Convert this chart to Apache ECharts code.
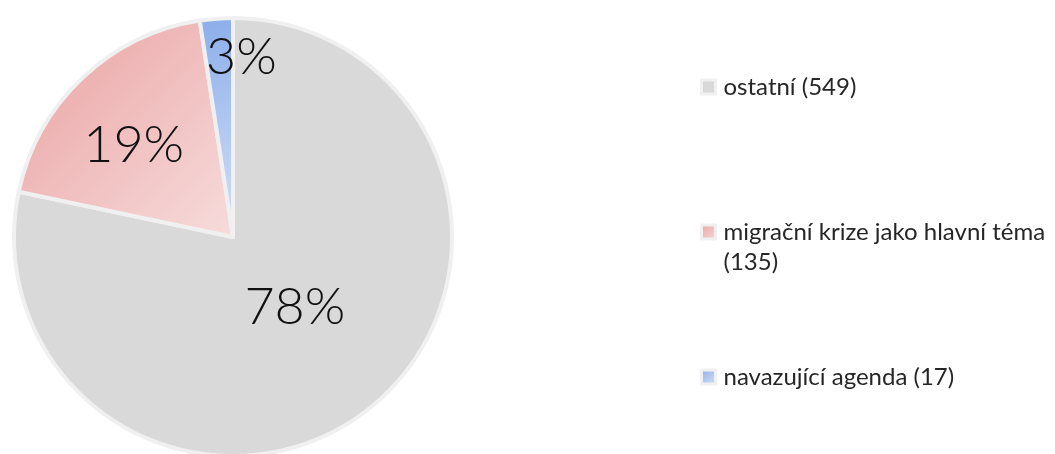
<!DOCTYPE html>
<html>
<head>
<meta charset="utf-8">
<script src="https://cdn.jsdelivr.net/npm/echarts@6/dist/echarts.min.js"></script>
<style>
  html, body { margin: 0; padding: 0; background: #fff; }
  #chart { width: 1055px; height: 454px; }
</style>
</head>
<body>
<div id="chart"></div>
<script>
var categories = ['ostatní', 'migrační krize jako hlavní téma', 'navazující agenda'];
var counts = [549, 135, 17];

// slice fills: [top-left colour, bottom-right colour]
var fills = [
  ['#d9d9d9', '#d9d9d9'],
  ['#eaa1a1', '#f7dcdc'],
  ['#8badea', '#d6e2f7']
];
// nudge of the percent labels from the default inside spot
var labelNudge = [[-9, -17], [-22, -10], [17, -68]];

var legendFont = '24px Lato';
var legendMaxWidth = 332;

var myChart = echarts.init(document.getElementById('chart'));

function grad(c) {
  return new echarts.graphic.LinearGradient(0, 0, 1, 1, [
    { offset: 0, color: c[0] },
    { offset: 1, color: c[1] }
  ]);
}

// measure legend text, put the count on its own line when too long.
// a blank line on top keeps the icon level with the first text line
var ctx = document.createElement('canvas').getContext('2d');
ctx.font = legendFont;
function legendText(name) {
  var i = categories.indexOf(name);
  var full = name + ' (' + counts[i] + ')';
  if (ctx.measureText(full).width > legendMaxWidth) {
    return ' \n' + name + '\n(' + counts[i] + ')';
  }
  return full;
}

var pieData = categories.map(function (name, i) {
  return { name: name, value: counts[i], itemStyle: { color: grad(fills[i]) } };
});

var option = {
  animation: false,
  legend: {
    orient: 'vertical',
    left: 700,
    top: 72,
    padding: 0,
    itemGap: 85,
    itemWidth: 14,
    itemHeight: 14,
    icon: 'rect',
    itemStyle: { borderColor: '#f0f0f0', borderWidth: 3 },
    data: categories,
    formatter: legendText,
    textStyle: {
      fontFamily: 'Lato',
      fontSize: 24,
      lineHeight: 30,
      color: '#262626',
      padding: [0, 0, 0, 3]
    }
  },
  series: [{
    type: 'pie',
    center: [233, 237],
    radius: 219,
    startAngle: 90,
    clockwise: true,
    percentPrecision: 0,
    itemStyle: { borderColor: '#f0f0f0', borderWidth: 4 },
    label: {
      position: 'inside',
      formatter: '{d}%',
      fontFamily: 'Lato',
      fontWeight: 300,
      fontSize: 52,
      color: '#111'
    },
    labelLine: { show: false },
    labelLayout: function (p) {
      var n = labelNudge[p.dataIndex];
      return { dx: n[0], dy: n[1] };
    },
    emphasis: { disabled: true },
    data: pieData
  }]
};

myChart.setOption(option);
window.addEventListener('resize', myChart.resize);
</script>
</body>
</html>
